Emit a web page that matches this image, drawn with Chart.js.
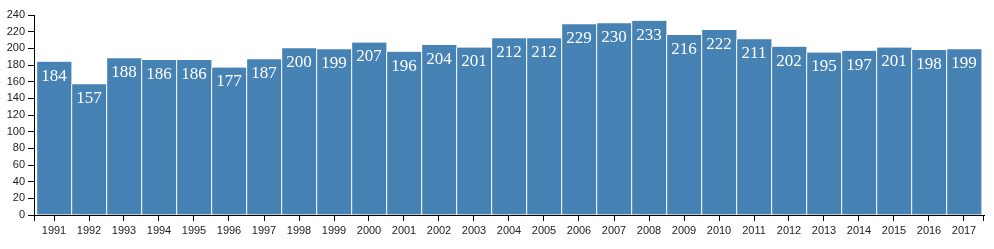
<!DOCTYPE html>
<html>
<head>
<meta charset="utf-8">
<script src="https://cdn.jsdelivr.net/npm/chart.js@4"></script>
<style>
  html, body { margin: 0; padding: 0; background: #fff; }
  #wrap { width: 994px; height: 249px; position: relative; }
</style>
</head>
<body>
<div id="wrap"><canvas id="c"></canvas></div>
<script>
/* Yearly counts, 1991-2017 */
const YEARS = ["1991","1992","1993","1994","1995","1996","1997","1998","1999","2000","2001","2002","2003","2004","2005","2006","2007","2008","2009","2010","2011","2012","2013","2014","2015","2016","2017"];
const VALUES = [184,157,188,186,186,177,187,200,199,207,196,204,201,212,212,229,230,233,216,222,211,202,195,197,201,198,199];
const Y_MAX = 240;
const Y_STEP = 20;

const BAR = "#4682b4";
const AXIS = "#000";
const TICK_TXT = "#222";

// value labels inside the top of each bar
const barLabels = {
  id: "barLabels",
  afterDatasetsDraw(chart) {
    const ctx = chart.ctx;
    const meta = chart.getDatasetMeta(0);
    ctx.save();
    ctx.fillStyle = "#fff";
    ctx.font = "17px 'Liberation Serif', serif";
    ctx.textAlign = "center";
    ctx.textBaseline = "top";
    meta.data.forEach((bar, i) => {
      ctx.fillText(String(VALUES[i]), bar.x, bar.y + 6);
    });
    ctx.restore();
  }
};

// d3-style outer ticks at the axis ends
const outerTicks = {
  id: "outerTicks",
  afterDraw(chart) {
    const { ctx, chartArea: a } = chart;
    ctx.save();
    ctx.strokeStyle = AXIS;
    ctx.lineWidth = 1;
    ctx.beginPath();
    ctx.moveTo(a.left - 6, a.top + 0.5); ctx.lineTo(a.left, a.top + 0.5);
    ctx.moveTo(a.left + 0.5, a.bottom); ctx.lineTo(a.left + 0.5, a.bottom + 6);
    ctx.moveTo(a.right - 0.5, a.bottom); ctx.lineTo(a.right - 0.5, a.bottom + 6);
    ctx.stroke();
    ctx.restore();
  }
};

new Chart(document.getElementById("c"), {
  type: "bar",
  data: {
    datasets: [{
      data: VALUES.map((v, i) => ({ x: i, y: v })),
      backgroundColor: BAR,
      borderColor: "#fff",
      borderWidth: { left: 1, right: 0, top: 0, bottom: 0 },
      borderSkipped: false,
      barThickness: 35
    }]
  },
  options: {
    responsive: true,
    maintainAspectRatio: false,
    animation: false,
    layout: { padding: { left: 0, right: 10, top: 15, bottom: 0 } },
    plugins: { legend: { display: false }, tooltip: { enabled: false } },
    scales: {
      x: {
        type: "linear",
        offset: false,
        min: -4 / 7, max: YEARS.length - 1 + 4 / 7,
        afterBuildTicks(s) { s.ticks = YEARS.map((_, i) => ({ value: i })); },
        grid: { display: true, drawOnChartArea: false, offset: false, tickLength: 6, color: AXIS },
        border: { display: true, color: AXIS },
        ticks: {
          color: TICK_TXT, font: { family: "'Liberation Sans', Arial", size: 11 },
          maxRotation: 0, autoSkip: false, padding: 3,
          callback: v => YEARS[v]
        },
        afterFit(s) { s.height = 34; }
      },
      y: {
        min: 0, max: Y_MAX,
        grid: { display: true, drawOnChartArea: false, tickLength: 6, color: AXIS },
        border: { display: true, color: AXIS },
        ticks: { stepSize: Y_STEP, color: TICK_TXT, font: { family: "'Liberation Sans', Arial", size: 11 }, padding: 3 },
        afterFit(s) { s.width = 34; }
      }
    }
  },
  plugins: [barLabels, outerTicks]
});
</script>
</body>
</html>
